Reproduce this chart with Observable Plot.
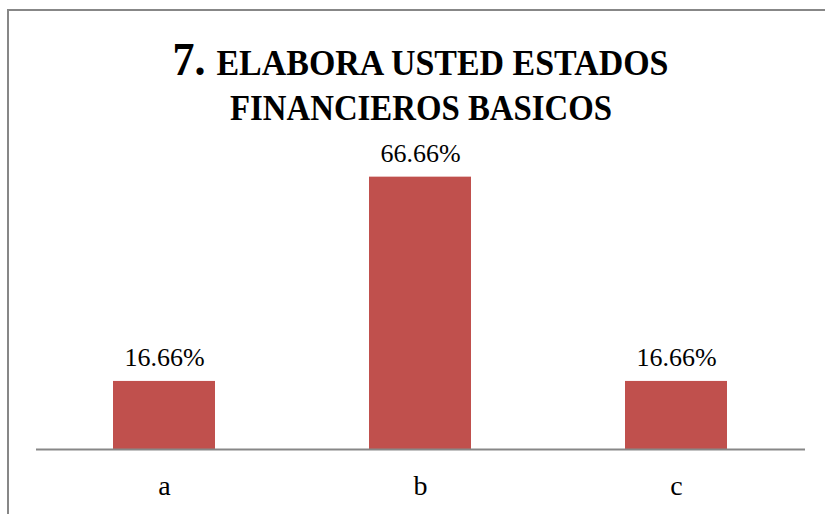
<!DOCTYPE html>
<html>
<head>
<meta charset="utf-8">
<script src="https://cdn.jsdelivr.net/npm/d3@7"></script>
<script src="https://cdn.jsdelivr.net/npm/@observablehq/plot@0.6"></script>
<style>
  html, body { margin: 0; padding: 0; background: #fff; }
  #wrap { position: relative; width: 825px; height: 514px; overflow: hidden; }
  #border { position: absolute; left: 7px; top: 9px; width: 900px; height: 600px;
            border-top: 2px solid #878787; border-left: 2px solid #878787; box-sizing: border-box; }
  #chart { position: absolute; left: 0; top: 0; }
  #chart svg { overflow: visible; }
</style>
</head>
<body>
<div id="wrap">
  <div id="border"></div>
  <div id="chart"></div>
</div>
<script>
const categories = ["a", "b", "c"];
const values = [16.66, 66.66, 16.66];
const titleNumber = "7.";
const titleLine1 = "ELABORA USTED ESTADOS";
const titleLine2 = "FINANCIEROS BASICOS";

const data = categories.map((c, i) => ({cat: c, value: values[i]}));
const serif = "'Liberation Serif', 'DejaVu Serif', serif";

const plot = Plot.plot({
  width: 825,
  height: 514,
  marginLeft: 36,
  marginRight: 20,
  marginTop: 163,
  marginBottom: 65,
  style: {background: "transparent", fontFamily: serif},
  x: {domain: categories, paddingInner: 0.6, paddingOuter: 0.3, label: null},
  y: {domain: [0, 70], axis: null},
  marks: [
    Plot.barY(data, {x: "cat", y: "value", fill: "#C0504D"}),
    Plot.ruleY([0], {stroke: "#878787", strokeWidth: 2}),
    Plot.axisX({tickSize: 0, tickPadding: 26, fontSize: 28, fill: "#000", label: null, fontFamily: serif}),
    Plot.text(data, {x: "cat", y: "value", text: d => d.value.toFixed(2) + "%",
      lineAnchor: "bottom", dy: -15, fontSize: 26, fill: "#000", fontFamily: serif})
  ]
});

document.getElementById("chart").appendChild(plot);

// Title
const svg = d3.select(plot);
const t1 = svg.append("text")
  .attr("x", 172.5).attr("y", 74.5)
  .attr("text-anchor", "start")
  .attr("font-family", serif).attr("font-weight", "bold").attr("fill", "#000")
  .attr("textLength", 496).attr("lengthAdjust", "spacingAndGlyphs");
t1.append("tspan").attr("font-size", 46).text(titleNumber + " ");
t1.append("tspan").attr("font-size", 35.5).text(titleLine1);

svg.append("text")
  .attr("x", 230).attr("y", 120)
  .attr("text-anchor", "start")
  .attr("font-family", serif).attr("font-weight", "bold").attr("fill", "#000")
  .attr("font-size", 35)
  .attr("textLength", 382).attr("lengthAdjust", "spacingAndGlyphs")
  .text(titleLine2);
</script>
</body>
</html>
